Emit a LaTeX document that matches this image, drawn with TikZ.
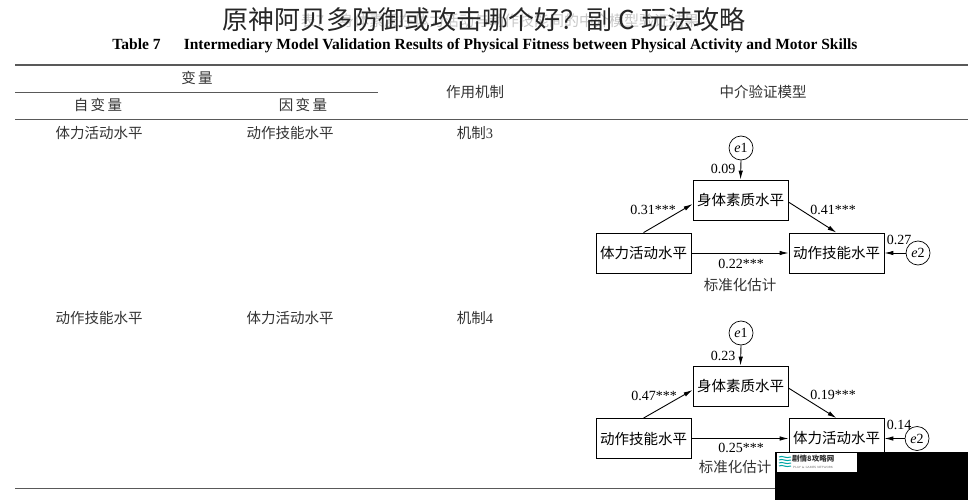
\documentclass[tikz,border=0pt]{standalone}
\usepackage{fontspec}
\setmainfont{Liberation Serif}
\newfontfamily\cjk{Noto Sans CJK SC}
\usetikzlibrary{arrows.meta}
\begin{document}
\begin{tikzpicture}[x=1pt,y=-1pt,
  cn/.style={font=\cjk\fontsize{14.5}{16}\selectfont, text=black!80, inner sep=0},
  num/.style={font=\fontsize{14}{15}\selectfont, inner sep=0},
  box/.style={draw, line width=0.8pt, minimum width=95pt, minimum height=40pt, inner sep=0, font=\cjk\fontsize{14.5}{16}\selectfont},
  err/.style={draw, circle, line width=0.7pt, minimum size=24pt, inner sep=0, font=\itshape\fontsize{14}{15}\selectfont},
  arr/.style={-{Latex[length=9pt,width=4.5pt]}, line width=0.9pt},
  rule/.style={draw=black!65, line width=0.9pt},
  thickrule/.style={draw=black!65, line width=2pt}
]
\useasboundingbox[fill=white] (0,0) rectangle (968,500);

% faint original title and overlay title
\node[font=\cjk\fontsize{15}{17}\selectfont, text=black!22, inner sep=0] (origtitle) at (500,21) {表7\quad 身体素质在体力活动与动作技能间的中介模型验证结果};
\node[font=\cjk\fontsize{26}{28}\selectfont, text=black!85, inner sep=0] (title) at (484,20) {原神阿贝多防御或攻击哪个好？副 C 玩法攻略};
\node[font=\bfseries\fontsize{15.5}{17}\selectfont, inner sep=0] (caption) at (485,46) {Table 7\quad\ \ Intermediary Model Validation Results of Physical Fitness between Physical Activity and Motor Skills};

% table rules
\draw[thickrule] (15,65) -- (968,65);
\draw[rule] (15,92) -- (378,92);
\draw[rule] (15,119) -- (968,119);
\draw[rule] (15,488) -- (968,488);

% header
\node[cn] (hvar) at (197,78) {变\,量};
\node[cn] (hiv) at (98,105) {自\,变\,量};
\node[cn] (hdv) at (303,105) {因\,变\,量};
\node[cn] (hmech) at (475,92) {作用机制};
\node[cn] (hmodel) at (763,92) {中介验证模型};

% rows
\node[cn] (r1a) at (99,133) {体力活动水平};
\node[cn] (r1b) at (290,133) {动作技能水平};
\node[cn] (r1c) at (475,133) {机制{\rmfamily 3}};
\node[cn] (r2a) at (99,318) {动作技能水平};
\node[cn] (r2b) at (290,318) {体力活动水平};
\node[cn] (r2c) at (475,318) {机制{\rmfamily 4}};

% ---------- model 1 ----------
\node[err] (ea) at (741,148) {e\upshape 1};
\node[box] (ma) at (740.5,200) {身体素质水平};
\node[box] (la) at (643.5,253) {体力活动水平};
\node[box] (ra) at (836.5,253) {动作技能水平};
\node[err] (fa) at (918,253) {e\upshape 2};
\draw[arr] (ea.south) -- (ma.north);
\draw[arr] (la.north) -- ([yshift=-4pt]ma.west);
\draw[arr] ([yshift=-2pt]ma.east) -- (ra.north);
\draw[arr] (la.east) -- (ra.west);
\draw[arr] (fa.west) -- (ra.east);
\node[num] (la1) at (723,169) {0.09};
\node[num] (la2) at (653,210) {0.31***};
\node[num] (la3) at (833,210) {0.41***};
\node[num] (la4) at (741,264) {0.22***};
\node[num] (la5) at (899,240) {0.27};
\node[cn] (la6) at (740,285) {标准化估计};

% ---------- model 2 ----------
\node[err] (eb) at (741,333) {e\upshape 1};
\node[box] (mb) at (740.5,386) {身体素质水平};
\node[box] (lb) at (643.5,438.5) {动作技能水平};
\node[box] (rb) at (836.5,438.5) {体力活动水平};
\node[err] (fb) at (917,438.5) {e\upshape 2};
\draw[arr] (eb.south) -- (mb.north);
\draw[arr] (lb.north) -- ([yshift=-4pt]mb.west);
\draw[arr] ([yshift=-2pt]mb.east) -- (rb.north);
\draw[arr] (lb.east) -- (rb.west);
\draw[arr] (fb.west) -- (rb.east);
\node[num] (lb1) at (723,356) {0.23};
\node[num] (lb2) at (654,396) {0.47***};
\node[num] (lb3) at (833,395) {0.19***};
\node[num] (lb4) at (741,448) {0.25***};
\node[num] (lb5) at (899,425) {0.14};
\node[cn] (lb6) at (735,467) {标准化估计};

% watermark
\fill[black] (775,452) rectangle (968,500);
\fill[white] (777,453) rectangle (857,472);
\foreach \k in {0,1,2,3}{
  \draw[teal!70!cyan, line width=1pt] (779,457+3*\k) .. controls (783,455+3*\k) and (785,459+3*\k) .. (791,457+3*\k);
}
\node[font=\cjk\bfseries\fontsize{7.5}{8}\selectfont, text=black!80, inner sep=0, anchor=west] (wm) at (792,459) {剧情8攻略网};
\node[font=\sffamily\fontsize{3}{3}\selectfont, text=black!60, inner sep=0, anchor=west] (wm2) at (793,467) {PLAY \& GAMES NETWORK};
\end{tikzpicture}
\end{document}
